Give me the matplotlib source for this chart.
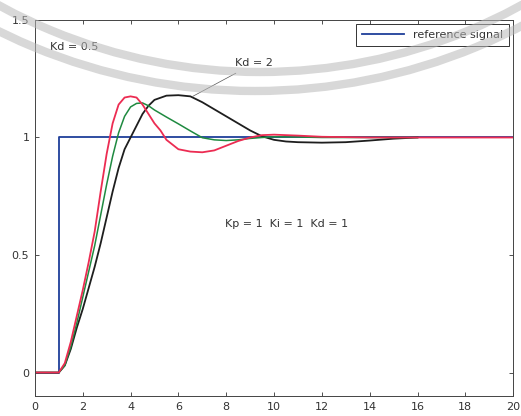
import matplotlib
matplotlib.use("Agg")
import matplotlib.pyplot as plt
from matplotlib.patches import Arc

# ---- data ----
ref_t = [0, 1, 1, 20]
ref_y = [0, 0, 1, 1]

red_t = [0, 1, 1.25, 1.5, 1.75, 2, 2.25, 2.5, 2.75, 3, 3.25, 3.5, 3.75, 4, 4.25, 4.5, 4.75,
         5, 5.25, 5.5, 6, 6.5, 7, 7.5, 8, 8.5, 9, 9.5, 10, 11, 12, 14, 16, 20]
red_y = [0, 0, 0.04, 0.13, 0.24, 0.35, 0.47, 0.6, 0.77, 0.93, 1.06, 1.14, 1.17, 1.175, 1.17,
         1.14, 1.1, 1.06, 1.03, 0.99, 0.95, 0.94, 0.937, 0.945, 0.965, 0.985, 1.0, 1.01,
         1.012, 1.008, 1.003, 1.0, 1.0, 1.0]

green_t = [0, 1, 1.25, 1.5, 1.75, 2, 2.25, 2.5, 2.75, 3, 3.25, 3.5, 3.75, 4, 4.25, 4.5, 4.75,
           5, 5.5, 6, 6.5, 7, 7.5, 8, 8.5, 9, 9.5, 10, 11, 12, 14, 16]
green_y = [0, 0, 0.03, 0.11, 0.21, 0.32, 0.43, 0.54, 0.67, 0.8, 0.92, 1.02, 1.09, 1.13, 1.145,
           1.147, 1.135, 1.117, 1.087, 1.058, 1.028, 0.999, 0.99, 0.987, 0.99, 0.996, 1.0,
           1.003, 1.002, 1.0, 1.0, 1.0]

black_t = [0, 1, 1.25, 1.5, 1.75, 2, 2.25, 2.5, 2.75, 3, 3.25, 3.5, 3.75, 4, 4.25, 4.5, 4.75,
           5, 5.5, 6, 6.5, 7, 7.5, 8, 8.5, 9, 9.5, 10, 10.5, 11, 12, 13, 14, 15, 16]
black_y = [0, 0, 0.03, 0.1, 0.19, 0.27, 0.36, 0.45, 0.55, 0.66, 0.77, 0.87, 0.95, 1.0, 1.05,
           1.1, 1.135, 1.16, 1.178, 1.18, 1.175, 1.15, 1.12, 1.09, 1.06, 1.03, 1.005, 0.99,
           0.983, 0.98, 0.978, 0.98, 0.987, 0.995, 1.0]

x_ticks = [0, 2, 4, 6, 8, 10, 12, 14, 16, 18, 20]
y_ticks = [0, 0.5, 1, 1.5]
y_tick_labels = ["0", "0.5", "1", "1.5"]

# ---- figure ----
fig = plt.figure(figsize=(5.21, 4.16), dpi=100)
ax = fig.add_axes([0.067, 0.048, 0.918, 0.904])

ax.plot(ref_t, ref_y, color="#1f3f9a", lw=1.3, label="reference signal")
ax.plot(black_t, black_y, color="#1e1e1e", lw=1.3)
ax.plot(green_t, green_y, color="#1f8a40", lw=1.1)
ax.plot(red_t, red_y, color="#ec2c52", lw=1.3)

ax.set_xlim(0, 20)
ax.set_ylim(-0.1, 1.5)
ax.set_xticks(x_ticks)
ax.set_yticks(y_ticks)
ax.set_yticklabels(y_tick_labels)
ax.tick_params(direction="in", top=True, right=True, length=3, width=0.6,
               labelsize=8, labelcolor="#333333", color="#333333", pad=4)
for s in ax.spines.values():
    s.set_linewidth(0.7)
    s.set_color("#444444")

ax.text(0.63, 1.387, "Kd = 0.5", fontsize=8, color="#333333", va="center")
ax.annotate("Kd = 2", xy=(6.6, 1.175), xytext=(8.37, 1.315), fontsize=8,
            color="#333333", va="center",
            arrowprops=dict(arrowstyle="-", lw=0.5, color="#555555",
                            shrinkA=3, shrinkB=0))
ax.text(7.95, 0.63, "Kp = 1  Ki = 1  Kd = 1", fontsize=8, color="#333333", va="center")

leg = ax.legend(loc="upper right", fontsize=8, handlelength=3.8, fancybox=False,
                framealpha=1, edgecolor="#333333", borderaxespad=0.4,
                borderpad=0.5, labelcolor="#333333")
leg.get_frame().set_linewidth(0.7)

# ---- watermark arcs ----
wa = fig.add_axes([0, 0, 1, 1], zorder=5)
wa.set_xlim(0, 521)
wa.set_ylim(416, 0)
wa.axis("off")
wa.patch.set_alpha(0)
for (cx, cy, r) in ((260, -473, 545), (255, -488, 579)):
    wa.add_patch(Arc((cx, cy), 2 * r, 2 * r, theta1=0, theta2=360,
                     lw=6, color="#b8b8b8", alpha=0.55))

fig.savefig("out.png", dpi=100)
